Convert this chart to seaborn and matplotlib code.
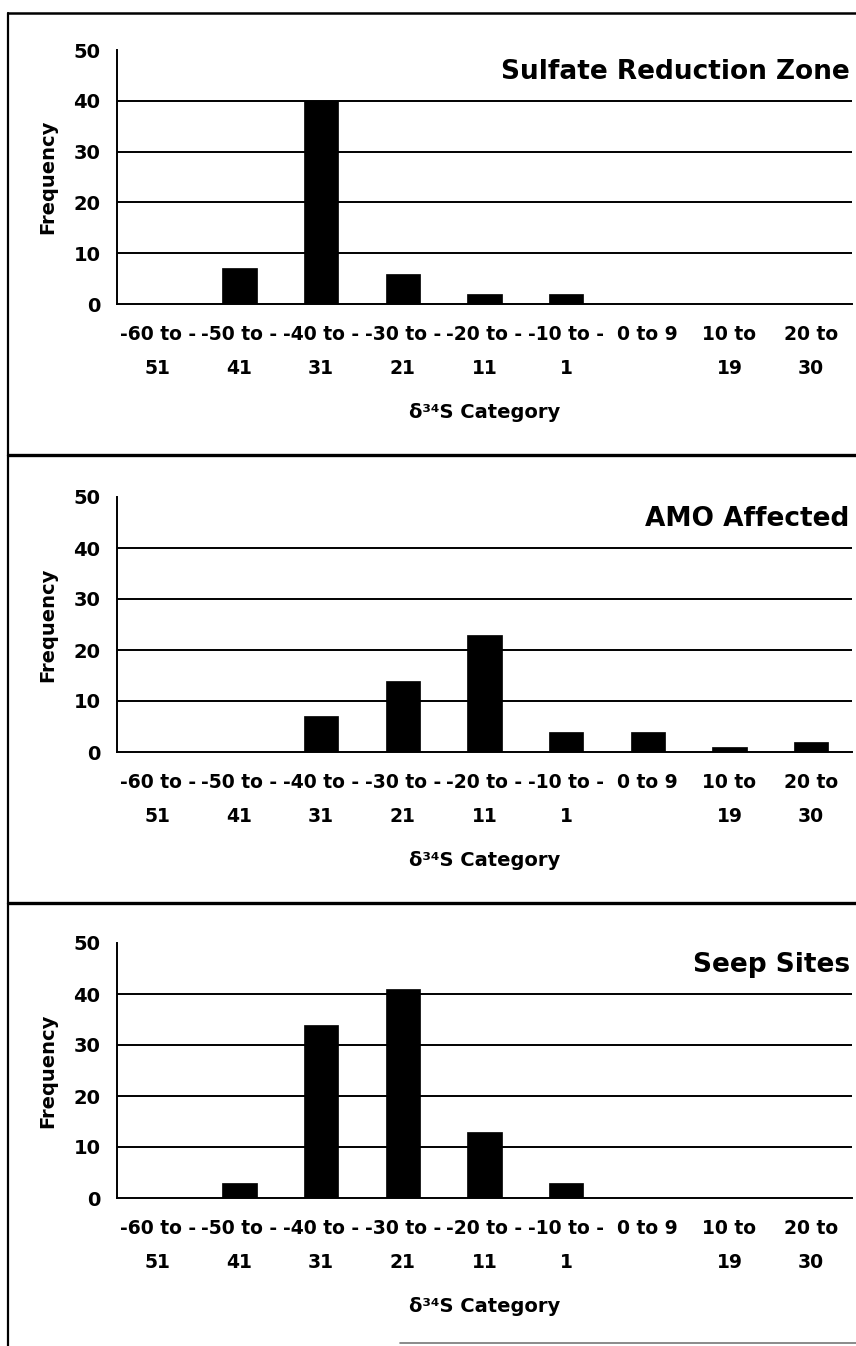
import matplotlib
matplotlib.use("Agg")
import matplotlib.pyplot as plt
from matplotlib.lines import Line2D
from matplotlib.ticker import MultipleLocator, FixedLocator
import seaborn as sns
import pandas as pd

categories = ["-60 to -\n51", "-50 to -\n41", "-40 to -\n31", "-30 to -\n21",
              "-20 to -\n11", "-10 to -\n1", "0 to 9\n ", "10 to\n19", "20 to\n30"]
sulfate_reduction = [0, 7, 40, 6, 2, 2, 0, 0, 0]
amo_affected = [0, 0, 7, 14, 23, 4, 4, 1, 2]
seep_sites = [0, 3, 34, 41, 13, 3, 0, 0, 0]
panel_titles = ["Sulfate Reduction Zone", "AMO Affected", "Seep Sites"]
y_ticks = [0, 10, 20, 30, 40, 50]

sns.set_style("white")
plt.rcParams["font.family"] = ["DejaVu Sans"]
plt.rcParams["font.weight"] = "bold"

W, H = 856, 1346
fig = plt.figure(figsize=(W / 100, H / 100), dpi=100)
fig.patch.set_facecolor("white")

# axes pixel extents (top, bottom) in image coordinates
panels = [(50, 304), (497, 752), (943, 1198)]
left_px, right_px = 117, 852
series = [sulfate_reduction, amo_affected, seep_sites]

for (top, bot), vals, title in zip(panels, series, panel_titles):
    ax = fig.add_axes([left_px / W, (H - bot) / H, (right_px - left_px) / W, (bot - top) / H])
    df = pd.DataFrame({"cat": categories, "freq": vals})
    sns.barplot(data=df, x="cat", y="freq", color="black", saturation=1,
                width=0.42, ax=ax, order=categories, edgecolor="black", linewidth=0.5)
    ax.set_xlim(-0.5, 8.5)
    ax.set_ylim(0, 50)
    for yv in [10, 20, 30, 40]:
        ax.axhline(yv, color="black", lw=1.4, zorder=0)
    for s in ["top", "right"]:
        ax.spines[s].set_visible(False)
    for s in ["left", "bottom"]:
        ax.spines[s].set_color("black")
        ax.spines[s].set_linewidth(1.4)
    ax.set_yticks(y_ticks)
    ax.yaxis.set_minor_locator(MultipleLocator(5))
    ax.tick_params(axis="y", which="major", direction="in", length=4, width=1,
                   pad=12, labelsize=14, colors="black")
    ax.tick_params(axis="y", which="minor", direction="in", length=3, width=1, colors="black")
    ax.xaxis.set_minor_locator(FixedLocator([i - 0.5 for i in range(10)]))
    ax.tick_params(axis="x", which="major", length=0, pad=15, labelsize=13.5, colors="black")
    ax.tick_params(axis="x", which="minor", direction="out", length=6, width=1, colors="black")
    for lab in ax.get_xticklabels():
        lab.set_linespacing(2.0)
        lab.set_fontweight("bold")
    for lab in ax.get_yticklabels():
        lab.set_fontweight("bold")
    ax.set_ylabel("Frequency", fontsize=14, fontweight="bold", color="black")
    ax.yaxis.set_label_coords(-(left_px - 57) / (right_px - left_px), 0.5)
    ax.set_xlabel("δ³⁴S Category", fontsize=14, fontweight="bold", color="black")
    ax.xaxis.label.set_va("center")
    ax.xaxis.set_label_coords(0.5, -108 / (bot - top))
    ax.text(0.997, 1 - 22 / (bot - top), title, transform=ax.transAxes,
            ha="right", va="center", fontsize=19, fontweight="bold", color="black")
    ax.set_facecolor("white")

# frame lines
def fig_line(x0, y0, x1, y1, lw, color="black"):
    fig.add_artist(Line2D([x0 / W, x1 / W], [(H - y0) / H, (H - y1) / H],
                          transform=fig.transFigure, color=color, lw=lw))

fig_line(8, 13, 8, H, 1.6)
fig_line(8, 13, W, 13, 1.8)
fig_line(8, 455, W, 455, 2.4)
fig_line(8, 903, W, 903, 2.4)
fig_line(400, 1343, W, 1343, 1.2, color="#777777")

fig.savefig("out.png", dpi=100, facecolor="white")
